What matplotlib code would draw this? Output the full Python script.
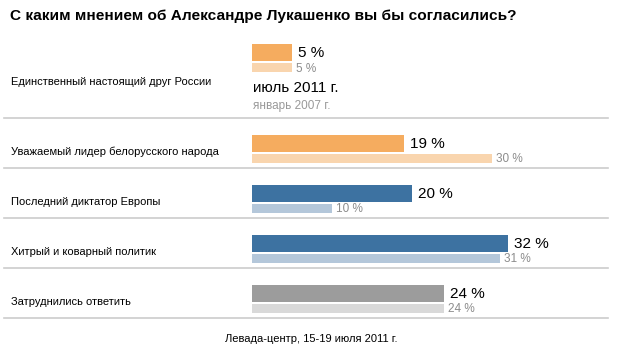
import matplotlib
matplotlib.use('Agg')
import matplotlib.pyplot as plt

plt.rcParams['font.family'] = ['Liberation Sans', 'DejaVu Sans']

# данные
categories = ['Единственный настоящий друг России',
              'Уважаемый лидер белорусского народа',
              'Последний диктатор Европы',
              'Хитрый и коварный политик',
              'Затруднились ответить']
jul_2011 = [5, 19, 20, 32, 24]
jan_2007 = [5, 30, 10, 31, 24]
dark_colors = ['#F5AC5F', '#F5AC5F', '#3D72A1', '#3D72A1', '#9C9C9C']
light_colors = ['#F9D5AE', '#F9D5AE', '#B4C7DA', '#B4C7DA', '#D9D9D9']

W, H = 618, 356
X0, K = 252, 8.0  # пиксель нуля и пикселей на процент


def px(xp):
    return (xp - X0) / K


fig = plt.figure(figsize=(W / 100, H / 100), dpi=100)
ax = fig.add_axes([0, 0, 1, 1])
ax.set_xlim(px(0), px(W))
ax.set_ylim(H, 0)
ax.axis('off')

dark_top = [44, 135, 185, 235, 285]
label_y = [82, 152, 202, 252, 302]
sep_y = [118, 168, 218, 268, 318]

for i, cat in enumerate(categories):
    yt = dark_top[i]
    ax.barh(yt + 8.5, jul_2011[i], height=17, left=0, color=dark_colors[i])
    ax.barh(yt + 23.5, jan_2007[i], height=9, left=0, color=light_colors[i])
    ax.text(jul_2011[i] + 6 / K, yt + 9, f'{jul_2011[i]} %', fontsize=11,
            va='center', ha='left', color='black')
    ax.text(jan_2007[i] + 4 / K, yt + 24.5, f'{jan_2007[i]} %', fontsize=8.5,
            va='center', ha='left', color='#8C8C8C')
    ax.text(px(11), label_y[i], cat, fontsize=8, va='center', ha='left')
    ax.plot([px(4), px(608)], [sep_y[i], sep_y[i]], color='#CCCCCC', lw=1.2)

# легенда
ax.text(px(253), 88, 'июль 2011 г.', fontsize=11, va='center', ha='left')
ax.text(px(253), 106, 'январь 2007 г.', fontsize=8.5, va='center', ha='left',
        color='#999999')

ax.text(px(10), 16, 'С каким мнением об Александре Лукашенко вы бы согласились?',
        fontsize=11.1, fontweight='bold', va='center', ha='left')
ax.text(px(311), 339, 'Левада-центр, 15-19 июля 2011 г.', fontsize=8,
        va='center', ha='center')

fig.savefig('out.png', dpi=100)
